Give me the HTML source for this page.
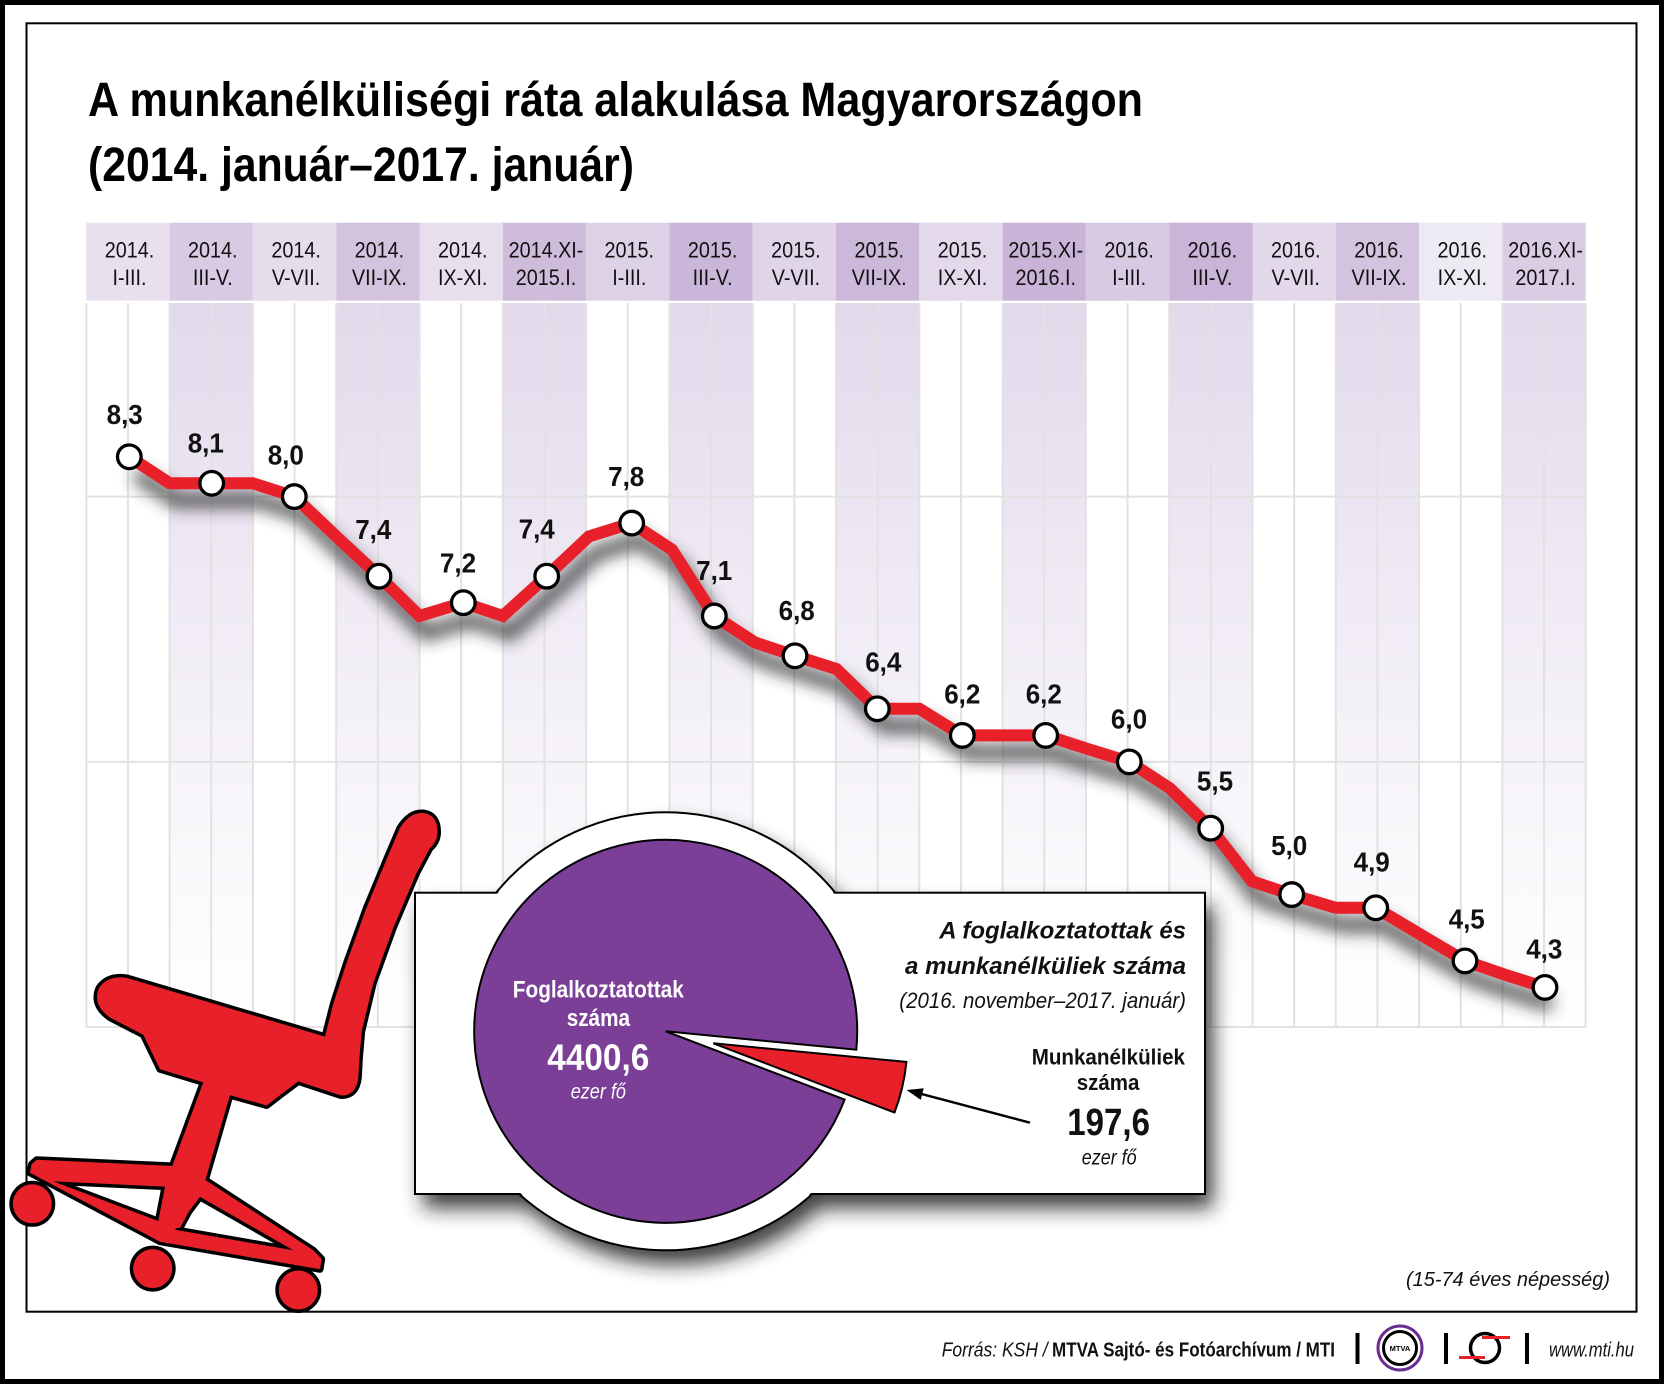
<!DOCTYPE html>
<html><head><meta charset="utf-8">
<style>
html,body{margin:0;padding:0;background:#fff;}
svg{display:block;}
text{font-family:"Liberation Sans",Arial,sans-serif;}
</style></head><body>
<svg width="1664" height="1384" viewBox="0 0 1664 1384" xmlns="http://www.w3.org/2000/svg">
<defs>
<linearGradient id="shade" x1="0" y1="303" x2="0" y2="1027" gradientUnits="userSpaceOnUse">
<stop offset="0" stop-color="#e2d9eb"/>
<stop offset="0.3" stop-color="#ece6f2"/>
<stop offset="0.65" stop-color="#f7f4f9"/>
<stop offset="1" stop-color="#ffffff"/>
</linearGradient>
<filter id="blurL" x="-20%" y="-30%" width="140%" height="160%"><feGaussianBlur stdDeviation="8"/></filter>
<filter id="boxsh" x="-20%" y="-30%" width="140%" height="160%"><feGaussianBlur stdDeviation="10"/></filter>
</defs>
<rect width="1664" height="1384" fill="#fff"/>

<!-- inner frame -->
<rect x="26.5" y="23.3" width="1610" height="1288.4" fill="none" stroke="#000" stroke-width="2"/>

<!-- title -->
<text x="88" y="116" font-size="48" font-weight="bold" textLength="1055" lengthAdjust="spacingAndGlyphs">A munkanélküliségi ráta alakulása Magyarországon</text>
<text x="88" y="181" font-size="48" font-weight="bold" textLength="546" lengthAdjust="spacingAndGlyphs">(2014. január–2017. január)</text>

<!-- header band -->
<g>
<rect x="86.3" y="222.7" width="83.3" height="78" fill="#e8e0ee"/>
<rect x="169.6" y="222.7" width="83.3" height="78" fill="#d8cae2"/>
<rect x="252.9" y="222.7" width="83.3" height="78" fill="#e6ddec"/>
<rect x="336.2" y="222.7" width="83.3" height="78" fill="#d3c3de"/>
<rect x="419.5" y="222.7" width="83.3" height="78" fill="#e7dfed"/>
<rect x="502.8" y="222.7" width="83.3" height="78" fill="#cfbcdb"/>
<rect x="586.1" y="222.7" width="83.3" height="78" fill="#ddd1e6"/>
<rect x="669.4" y="222.7" width="83.3" height="78" fill="#cab6d8"/>
<rect x="752.7" y="222.7" width="83.3" height="78" fill="#e0d5e8"/>
<rect x="836" y="222.7" width="83.3" height="78" fill="#ccb8d9"/>
<rect x="919.3" y="222.7" width="83.3" height="78" fill="#e3d9ea"/>
<rect x="1002.6" y="222.7" width="83.3" height="78" fill="#c9b4d7"/>
<rect x="1085.9" y="222.7" width="83.3" height="78" fill="#d8cae2"/>
<rect x="1169.2" y="222.7" width="83.3" height="78" fill="#cab5d8"/>
<rect x="1252.5" y="222.7" width="83.3" height="78" fill="#e2d8ea"/>
<rect x="1335.8" y="222.7" width="83.3" height="78" fill="#d3c3de"/>
<rect x="1419.1" y="222.7" width="83.3" height="78" fill="#eeeaf3"/>
<rect x="1502.4" y="222.7" width="83.3" height="78" fill="#d9cce3"/>
</g>
<g font-size="22" fill="#111" text-anchor="middle">
<text transform="translate(129.5,257.7) scale(0.9,1)">2014.</text><text transform="translate(129.5,285) scale(0.9,1)">I-III.</text>
<text transform="translate(212.8,257.7) scale(0.9,1)">2014.</text><text transform="translate(212.8,285) scale(0.9,1)">III-V.</text>
<text transform="translate(296.1,257.7) scale(0.9,1)">2014.</text><text transform="translate(296.1,285) scale(0.9,1)">V-VII.</text>
<text transform="translate(379.4,257.7) scale(0.9,1)">2014.</text><text transform="translate(379.4,285) scale(0.9,1)">VII-IX.</text>
<text transform="translate(462.7,257.7) scale(0.9,1)">2014.</text><text transform="translate(462.7,285) scale(0.9,1)">IX-XI.</text>
<text transform="translate(546,257.7) scale(0.9,1)">2014.XI-</text><text transform="translate(546,285) scale(0.9,1)">2015.I.</text>
<text transform="translate(629.3,257.7) scale(0.9,1)">2015.</text><text transform="translate(629.3,285) scale(0.9,1)">I-III.</text>
<text transform="translate(712.6,257.7) scale(0.9,1)">2015.</text><text transform="translate(712.6,285) scale(0.9,1)">III-V.</text>
<text transform="translate(795.9,257.7) scale(0.9,1)">2015.</text><text transform="translate(795.9,285) scale(0.9,1)">V-VII.</text>
<text transform="translate(879.2,257.7) scale(0.9,1)">2015.</text><text transform="translate(879.2,285) scale(0.9,1)">VII-IX.</text>
<text transform="translate(962.5,257.7) scale(0.9,1)">2015.</text><text transform="translate(962.5,285) scale(0.9,1)">IX-XI.</text>
<text transform="translate(1045.8,257.7) scale(0.9,1)">2015.XI-</text><text transform="translate(1045.8,285) scale(0.9,1)">2016.I.</text>
<text transform="translate(1129.1,257.7) scale(0.9,1)">2016.</text><text transform="translate(1129.1,285) scale(0.9,1)">I-III.</text>
<text transform="translate(1212.4,257.7) scale(0.9,1)">2016.</text><text transform="translate(1212.4,285) scale(0.9,1)">III-V.</text>
<text transform="translate(1295.7,257.7) scale(0.9,1)">2016.</text><text transform="translate(1295.7,285) scale(0.9,1)">V-VII.</text>
<text transform="translate(1379,257.7) scale(0.9,1)">2016.</text><text transform="translate(1379,285) scale(0.9,1)">VII-IX.</text>
<text transform="translate(1462.3,257.7) scale(0.9,1)">2016.</text><text transform="translate(1462.3,285) scale(0.9,1)">IX-XI.</text>
<text transform="translate(1545.6,257.7) scale(0.9,1)">2016.XI-</text><text transform="translate(1545.6,285) scale(0.9,1)">2017.I.</text>
</g>

<!-- chart shaded columns -->
<g fill="url(#shade)">
<rect x="169.6" y="303" width="83.3" height="724"/>
<rect x="336.2" y="303" width="83.3" height="724"/>
<rect x="502.8" y="303" width="83.3" height="724"/>
<rect x="669.4" y="303" width="83.3" height="724"/>
<rect x="836" y="303" width="83.3" height="724"/>
<rect x="1002.6" y="303" width="83.3" height="724"/>
<rect x="1169.2" y="303" width="83.3" height="724"/>
<rect x="1335.8" y="303" width="83.3" height="724"/>
<rect x="1502.4" y="303" width="83.3" height="724"/>
</g>
<!-- grid -->
<path fill="none" stroke="#e2e2e2" stroke-width="2" d="M86.3 303V1027M127.95 303V1027M169.6 303V1027M211.25 303V1027M252.9 303V1027M294.55 303V1027M336.2 303V1027M377.85 303V1027M419.5 303V1027M461.15 303V1027M502.8 303V1027M544.45 303V1027M586.1 303V1027M627.75 303V1027M669.4 303V1027M711.05 303V1027M752.7 303V1027M794.35 303V1027M836 303V1027M877.65 303V1027M919.3 303V1027M960.95 303V1027M1002.6 303V1027M1044.25 303V1027M1085.9 303V1027M1127.55 303V1027M1169.2 303V1027M1210.85 303V1027M1252.5 303V1027M1294.15 303V1027M1335.8 303V1027M1377.45 303V1027M1419.1 303V1027M1460.75 303V1027M1502.4 303V1027M1544.05 303V1027M1585.7 303V1027M86.3 496.6H1585.7M86.3 761.9H1585.7M86.3 1027H1585.7"/>

<!-- line shadow -->
<polyline transform="translate(7,17)" filter="url(#blurL)" opacity="0.75" fill="none" stroke="#2a2a2a" stroke-width="16" stroke-linejoin="miter"
points="129.3,456.8 169.6,483.3 211.7,483.3 252.9,483.3 294.3,496.6 336.2,536.4 379,576.2 419.5,616 463.3,602.7 502.8,616 546.7,576.2 589,536.4 631.7,523.1 672,549.7 714.3,616 755,642.5 795,655.8 836.5,669 877.3,708.8 919.3,708.8 962.3,735.4 1002.6,735.4 1045.7,735.4 1086.5,748.6 1129.3,761.9 1170,788.4 1210.7,828.2 1252,881.3 1291.7,894.6 1335.5,907.8 1375.7,907.8 1420,934.3 1465,960.9 1503,974.1 1545,987.4"/>
<!-- line -->
<polyline fill="none" stroke="#e8202a" stroke-width="12" stroke-linejoin="miter"
points="129.3,456.8 169.6,483.3 211.7,483.3 252.9,483.3 294.3,496.6 336.2,536.4 379,576.2 419.5,616 463.3,602.7 502.8,616 546.7,576.2 589,536.4 631.7,523.1 672,549.7 714.3,616 755,642.5 795,655.8 836.5,669 877.3,708.8 919.3,708.8 962.3,735.4 1002.6,735.4 1045.7,735.4 1086.5,748.6 1129.3,761.9 1170,788.4 1210.7,828.2 1252,881.3 1291.7,894.6 1335.5,907.8 1375.7,907.8 1420,934.3 1465,960.9 1503,974.1 1545,987.4"/>
<!-- markers -->
<g fill="#fff" stroke="#000" stroke-width="3.3">
<circle cx="129.3" cy="456.8" r="11.8"/>
<circle cx="211.7" cy="483.3" r="11.8"/>
<circle cx="294.3" cy="496.6" r="11.8"/>
<circle cx="379" cy="576.2" r="11.8"/>
<circle cx="463.3" cy="602.7" r="11.8"/>
<circle cx="546.7" cy="576.2" r="11.8"/>
<circle cx="631.7" cy="523.1" r="11.8"/>
<circle cx="714.3" cy="616" r="11.8"/>
<circle cx="795" cy="655.8" r="11.8"/>
<circle cx="877.3" cy="708.8" r="11.8"/>
<circle cx="962.3" cy="735.4" r="11.8"/>
<circle cx="1045.7" cy="735.4" r="11.8"/>
<circle cx="1129.3" cy="761.9" r="11.8"/>
<circle cx="1210.7" cy="828.2" r="11.8"/>
<circle cx="1291.7" cy="894.6" r="11.8"/>
<circle cx="1375.7" cy="907.8" r="11.8"/>
<circle cx="1465" cy="960.9" r="11.8"/>
<circle cx="1545" cy="987.4" r="11.8"/>
</g>
<!-- value labels -->
<g font-size="28" font-weight="bold" fill="#111" text-anchor="middle">
<text transform="translate(124.7,424) scale(0.93,1)">8,3</text>
<text transform="translate(205.8,452.5) scale(0.93,1)">8,1</text>
<text transform="translate(285.8,464.5) scale(0.93,1)">8,0</text>
<text transform="translate(373.3,539) scale(0.93,1)">7,4</text>
<text transform="translate(458,572.5) scale(0.93,1)">7,2</text>
<text transform="translate(536.7,538.5) scale(0.93,1)">7,4</text>
<text transform="translate(626.2,486) scale(0.93,1)">7,8</text>
<text transform="translate(714.2,580) scale(0.93,1)">7,1</text>
<text transform="translate(796.7,620) scale(0.93,1)">6,8</text>
<text transform="translate(883.3,671.7) scale(0.93,1)">6,4</text>
<text transform="translate(962.3,703.3) scale(0.93,1)">6,2</text>
<text transform="translate(1043.8,703.3) scale(0.93,1)">6,2</text>
<text transform="translate(1129,728.3) scale(0.93,1)">6,0</text>
<text transform="translate(1215,790.7) scale(0.93,1)">5,5</text>
<text transform="translate(1289.2,855) scale(0.93,1)">5,0</text>
<text transform="translate(1371.7,871.7) scale(0.93,1)">4,9</text>
<text transform="translate(1466.7,928.3) scale(0.93,1)">4,5</text>
<text transform="translate(1544.3,958.3) scale(0.93,1)">4,3</text>
</g>

<!-- chair -->
<g fill="#000" stroke="#000" stroke-width="7" stroke-linejoin="round">
<path d="M126.7,977.9 L325,1036.6 L333.3,1003.8 L346.7,962.4 L366.7,907.2 L386.7,859 L400,827.9 Q410,812 423.3,813 Q438,815 437.5,833 Q437,842 430,848 L416.7,872.8 L393.3,927.9 L373.3,983.1 L361.7,1031.4 L359.3,1059 L358.3,1077.9 Q356,1096 341,1095.5 L298.3,1081.4 L280,1095.2 L266.7,1105.5 L230,1095.2 L205,1181.4 L180,1228 L161,1228 L171.7,1167.6 L203.3,1082.4 L160,1069.3 L143.3,1034.8 L110,1017.6 Q92,1005 99,988 Q108,975 126.7,977.9 Z"/>
<path fill-rule="evenodd" d="M30,1172.8 L31.7,1164.1 L36.7,1159.7 L171.7,1165.9 L205,1179.7 L313.3,1250.3 L321.7,1259 L320,1269.3 L160,1241.7 Z M53.3,1181.4 L165,1186.6 L158.3,1221 Z M200,1196.9 L175,1229.7 L293.3,1250.3 Z"/>
<circle cx="32.3" cy="1203.8" r="19.5"/>
<circle cx="152.7" cy="1268.6" r="19.5"/>
<circle cx="298.3" cy="1290" r="19.5"/>
</g>
<g fill="#e8202a">
<path d="M126.7,977.9 L325,1036.6 L333.3,1003.8 L346.7,962.4 L366.7,907.2 L386.7,859 L400,827.9 Q410,812 423.3,813 Q438,815 437.5,833 Q437,842 430,848 L416.7,872.8 L393.3,927.9 L373.3,983.1 L361.7,1031.4 L359.3,1059 L358.3,1077.9 Q356,1096 341,1095.5 L298.3,1081.4 L280,1095.2 L266.7,1105.5 L230,1095.2 L205,1181.4 L180,1228 L161,1228 L171.7,1167.6 L203.3,1082.4 L160,1069.3 L143.3,1034.8 L110,1017.6 Q92,1005 99,988 Q108,975 126.7,977.9 Z"/>
<path fill-rule="evenodd" d="M30,1172.8 L31.7,1164.1 L36.7,1159.7 L171.7,1165.9 L205,1179.7 L313.3,1250.3 L321.7,1259 L320,1269.3 L160,1241.7 Z M53.3,1181.4 L165,1186.6 L158.3,1221 Z M200,1196.9 L175,1229.7 L293.3,1250.3 Z"/>
<circle cx="32.3" cy="1203.8" r="19.5"/>
<circle cx="152.7" cy="1268.6" r="19.5"/>
<circle cx="298.3" cy="1290" r="19.5"/>
</g>

<!-- box shadow -->
<g transform="translate(8,14)" filter="url(#boxsh)" opacity="0.85" fill="#1a1a1a">
<rect x="415" y="892.7" width="790" height="301.3"/>
<circle cx="665.7" cy="1031.3" r="219"/>
</g>
<!-- halo + box -->
<circle cx="665.7" cy="1031.3" r="219" fill="#fff" stroke="#000" stroke-width="2"/>
<rect x="415" y="892.7" width="790" height="301.3" fill="#fff" stroke="#000" stroke-width="2"/>
<circle cx="665.7" cy="1031.3" r="217.5" fill="#fff"/>

<!-- pie -->
<path d="M665.7,1031.3 L844.6,1099.6 A191.5,191.5 0 1 1 856.3,1049.7 Z" fill="#7b3f98" stroke="#000" stroke-width="2" stroke-linejoin="miter"/>
<path d="M713.3,1043.3 L906.4,1061.9 A194,194 0 0 1 894.5,1112.5 Z" fill="#e8202a" stroke="#000" stroke-width="2"/>

<!-- pie texts -->
<g fill="#fff">
<text x="512.8" y="997.7" font-size="24" font-weight="bold" textLength="171" lengthAdjust="spacingAndGlyphs">Foglalkoztatottak</text>
<text x="566.7" y="1026" font-size="24" font-weight="bold" textLength="63.3" lengthAdjust="spacingAndGlyphs">száma</text>
<text x="547.3" y="1070" font-size="37" font-weight="bold" textLength="102" lengthAdjust="spacingAndGlyphs">4400,6</text>
<text x="570.7" y="1098.3" font-size="21" font-style="italic" textLength="55.3" lengthAdjust="spacingAndGlyphs">ezer fő</text>
</g>
<g fill="#111">
<text x="939.3" y="938.3" font-size="24" font-weight="bold" font-style="italic" textLength="246.7" lengthAdjust="spacingAndGlyphs">A foglalkoztatottak és</text>
<text x="905" y="974" font-size="24" font-weight="bold" font-style="italic" textLength="281" lengthAdjust="spacingAndGlyphs">a munkanélküliek száma</text>
<text x="899.3" y="1008" font-size="22" font-style="italic" textLength="286.7" lengthAdjust="spacingAndGlyphs">(2016. november–2017. január)</text>
<text x="1031.7" y="1064.3" font-size="22" font-weight="bold" textLength="153.3" lengthAdjust="spacingAndGlyphs">Munkanélküliek</text>
<text x="1076.7" y="1090" font-size="22" font-weight="bold" textLength="62.7" lengthAdjust="spacingAndGlyphs">száma</text>
<text x="1067.3" y="1135" font-size="38" font-weight="bold" textLength="82.7" lengthAdjust="spacingAndGlyphs">197,6</text>
<text x="1081.7" y="1164.3" font-size="21" font-style="italic" textLength="55" lengthAdjust="spacingAndGlyphs">ezer fő</text>
</g>
<!-- arrow -->
<line x1="1030" y1="1122.7" x2="919" y2="1093.3" stroke="#000" stroke-width="2.5"/>
<polygon points="906.7,1090 920.7,1099.9 923.7,1088.3" fill="#000"/>

<!-- footnote -->
<text x="1406" y="1286" font-size="20" font-style="italic" fill="#111" textLength="204" lengthAdjust="spacingAndGlyphs">(15-74 éves népesség)</text>

<!-- footer -->
<text x="941.7" y="1356.7" font-size="20" font-style="italic" fill="#111" textLength="106" lengthAdjust="spacingAndGlyphs">Forrás: KSH /</text>
<text x="1052" y="1356.7" font-size="20" font-weight="bold" fill="#111" textLength="283" lengthAdjust="spacingAndGlyphs">MTVA Sajtó- és Fotóarchívum / MTI</text>
<rect x="1355.5" y="1333" width="4" height="31" fill="#000"/>
<circle cx="1400" cy="1348" r="22" fill="#fff" stroke="#6b2d8f" stroke-width="3"/>
<circle cx="1400" cy="1348" r="16.5" fill="#fff" stroke="#000" stroke-width="3"/>
<text x="1400" y="1350.8" font-size="7.5" font-weight="bold" text-anchor="middle" fill="#000">MTVA</text>
<rect x="1444" y="1333" width="4" height="31" fill="#000"/>
<circle cx="1485" cy="1348" r="14.5" fill="none" stroke="#000" stroke-width="3.5"/>
<line x1="1482" y1="1337.5" x2="1510" y2="1337.5" stroke="#e8202a" stroke-width="3"/>
<line x1="1459" y1="1357.5" x2="1485" y2="1357.5" stroke="#e8202a" stroke-width="3"/>
<rect x="1525" y="1333" width="4" height="31" fill="#000"/>
<text x="1549" y="1356.7" font-size="20" font-style="italic" fill="#111" textLength="85" lengthAdjust="spacingAndGlyphs">www.mti.hu</text>

<!-- outer border -->
<rect x="2.5" y="2.5" width="1659" height="1379" fill="none" stroke="#000" stroke-width="5"/>
</svg>
</body></html>
